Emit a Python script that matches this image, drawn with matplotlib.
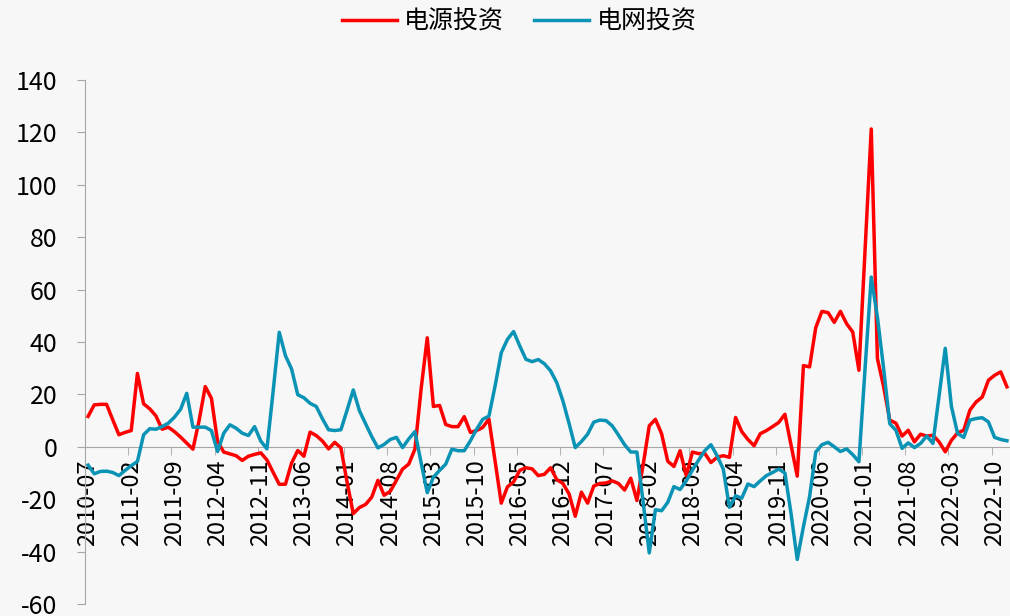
"""
电源投资 vs 电网投资 月度同比增速 (%)
"""
import numpy as np
import pandas as pd
import matplotlib
matplotlib.use('Agg')
import matplotlib.pyplot as plt

plt.rcParams['font.family'] = ['Noto Sans CJK SC', 'DejaVu Sans']
plt.rcParams['axes.unicode_minus'] = False

# 月份: 2010-07 ~ 2022-12
months = pd.period_range('2010-07', periods=150, freq='M').strftime('%Y-%m').tolist()

# 电源投资 (同比, %)
power = [11.6, 16.0, 16.2, 16.2, 10.3, 4.6, 5.5, 6.2, 28.0, 16.4,
         14.5, 11.8, 6.7, 7.5, 5.8, 3.7, 1.4, -0.9, 10.0, 23.0,
         18.5, 2.0, -2.0, -2.7, -3.4, -5.2, -3.6, -2.9, -2.3, -5.0,
         -9.7, -14.3, -14.3, -6.2, -1.4, -3.6, 5.6, 4.3, 2.2, -0.8,
         1.7, -0.4, -13.5, -25.5, -23.2, -22.0, -19.2, -12.8, -18.5, -17.0,
         -12.8, -8.5, -6.6, -0.9, 22.0, 41.6, 15.4, 15.8, 8.5, 7.7,
         7.7, 11.5, 5.5, 6.2, 7.4, 10.6, -5.5, -21.5, -15.3, -13.4,
         -9.0, -8.0, -8.4, -11.0, -10.5, -8.0, -12.5, -14.0, -18.0, -26.5,
         -17.3, -21.5, -15.0, -14.0, -13.8, -13.0, -14.0, -16.5, -12.0, -20.5,
         -7.0, 8.0, 10.5, 5.0, -5.5, -7.5, -1.5, -11.0, -2.0, -2.6,
         -2.5, -6.0, -4.0, -3.4, -4.0, 11.2, 5.8, 2.8, 0.4, 5.0,
         6.2, 7.7, 9.3, 12.4, 0.5, -11.2, 31.0, 30.5, 45.5, 51.7,
         51.2, 47.5, 51.7, 47.0, 43.8, 29.2, 75.0, 121.3, 33.7, 23.0,
         10.2, 9.0, 4.1, 6.3, 1.9, 4.8, 4.1, 4.4, 1.9, -1.9,
         2.5, 5.3, 6.3, 14.0, 17.1, 19.0, 25.4, 27.3, 28.6, 22.9]

# 电网投资 (同比, %)
grid = [-7.0, -10.3, -9.4, -9.3, -9.8, -11.0, -9.0, -7.2, -5.6, 4.6,
        6.9, 6.7, 7.7, 9.0, 11.3, 14.3, 20.4, 7.5, 7.5, 7.5,
        6.2, -1.8, 5.2, 8.4, 7.1, 5.2, 4.3, 7.7, 2.2, -0.8,
        21.0, 43.7, 34.8, 29.7, 19.9, 18.7, 16.6, 15.4, 10.7, 6.5,
        6.2, 6.5, 14.0, 21.7, 13.8, 8.8, 3.9, -0.4, 0.9, 2.8,
        3.6, -0.3, 3.0, 5.8, -6.0, -17.5, -11.6, -9.0, -6.6, -0.9,
        -1.5, -1.5, 2.3, 6.7, 10.5, 11.7, 23.2, 35.9, 41.0, 44.0,
        38.5, 33.4, 32.5, 33.3, 31.7, 29.0, 24.5, 17.5, 8.9, -0.3,
        2.0, 4.8, 9.4, 10.2, 10.0, 8.0, 4.5, 0.8, -2.0, -2.0,
        -21.0, -40.5, -24.0, -24.4, -21.2, -15.2, -16.3, -13.0, -8.9, -5.1,
        -1.5, 0.8, -3.4, -8.5, -23.1, -18.7, -19.6, -14.2, -15.2, -13.0,
        -11.0, -9.8, -8.5, -10.0, -25.6, -43.0, -30.5, -19.0, -2.0, 0.8,
        1.7, 0.0, -1.8, -0.8, -3.0, -5.7, 30.0, 64.8, 49.5, 30.0,
        8.8, 6.3, -0.6, 1.5, -0.3, 1.3, 4.1, 1.3, 19.5, 37.6,
        15.4, 5.1, 3.6, 10.2, 10.8, 11.1, 9.5, 3.6, 2.8, 2.3]

y_ticks = list(range(-60, 141, 20))
label_step = 7  # 每7个月一个标签

RED = '#FF0000'
BLUE = '#0A93B5'
BG = '#F7F7F7'
AXIS_C = '#A6A6A6'

fig = plt.figure(figsize=(10.1, 6.16), dpi=100, facecolor=BG)
ax = fig.add_axes([85 / 1010, 12 / 616, 925 / 1010, 524 / 616])
ax.set_facecolor(BG)

x = np.arange(len(months))
ax.plot(x, power, color=RED, linewidth=2.5, label='电源投资', zorder=3)
ax.plot(x, grid, color=BLUE, linewidth=2.5, label='电网投资', zorder=3)

ax.set_xlim(-0.5, len(months) - 0.5)
ax.set_ylim(y_ticks[0], y_ticks[-1])
ax.set_yticks(y_ticks)
ax.set_yticklabels([str(v) for v in y_ticks])
ax.tick_params(axis='y', labelsize=18, length=6, color=AXIS_C, pad=14)

for s in ['top', 'right']:
    ax.spines[s].set_visible(False)
ax.spines['left'].set_color(AXIS_C)
ax.spines['bottom'].set_position(('data', 0))
ax.spines['bottom'].set_color(AXIS_C)

# 标签居中, 刻度线在类别边界
pos = x[::label_step]
ax.set_xticks(pos)
ax.set_xticklabels([months[i] for i in pos], rotation=90)
ax.tick_params(axis='x', which='major', length=0, labelsize=17, pad=9)
ax.set_xticks(pos - 0.5, minor=True)
ax.tick_params(axis='x', which='minor', length=6, color=AXIS_C)

fig.legend(loc='center', bbox_to_anchor=(0.514, 1 - 22 / 616), ncol=2, frameon=False,
           fontsize=18, handlelength=2.2, handletextpad=0.3, columnspacing=1.2)

fig.savefig('out.png', dpi=100, facecolor=BG)
